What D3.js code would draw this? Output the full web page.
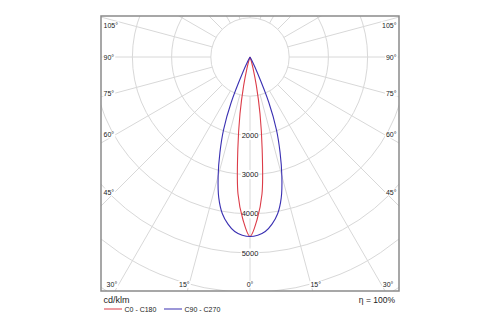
<!DOCTYPE html>
<html>
<head>
<meta charset="utf-8">
<script src="https://cdn.jsdelivr.net/npm/d3@7"></script>
<style>
  html, body { margin: 0; padding: 0; background: #fff; }
  svg { display: block; }
  text { font-family: "Liberation Sans", Arial, sans-serif; fill: #222; }
</style>
</head>
<body>
<svg id="chart" width="500" height="325"></svg>
<script>
// Gamma angles (degrees from nadir) and luminous intensity in cd/klm
const gammaAngles = [0, 2.5, 5, 7.5, 10, 12.5, 15, 17.5, 20, 22.5, 25, 27.5, 30, 35, 40, 50, 60, 70, 80, 90];
const intensityC0C180 = [4580, 4150, 3510, 2380, 1470, 750, 300, 110, 40, 10, 0, 0, 0, 0, 0, 0, 0, 0, 0, 0];
const intensityC90C270 = [4580, 4550, 4470, 4300, 4060, 3680, 3140, 2550, 1970, 1250, 450, 110, 20, 0, 0, 0, 0, 0, 0, 0];

// Grid definition
const ringValues = [1000, 2000, 3000, 4000, 5000, 6000, 7000];
const ringLabels = [2000, 3000, 4000, 5000];
const spokeAngles = d3.range(0, 360, 15);
const sideLabelAngles = [45, 60, 75, 90, 105];
const bottomLabelAngles = [-30, -15, 0, 15, 30];

const seriesNames = ["C0 - C180", "C90 - C270"];
const seriesColors = ["#dc3c48", "#3a30b2"];
const unitLabel = "cd/klm";
const efficiencyLabel = "η = 100%";

const svg = d3.select("#chart");
const frame = { x0: 101, y0: 16, x1: 399, y1: 291 };
const cx = 250, cy = 57;

const r = d3.scaleLinear().domain([0, 5000]).range([0, 196]);
const rad = d => d * Math.PI / 180;

// point on the diagram for gamma angle g (0 = straight down), radius rr
const pt = (g, rr) => [cx + rr * Math.sin(rad(g)), cy + rr * Math.cos(rad(g))];

svg.append("defs").append("clipPath").attr("id", "frameClip")
  .append("rect")
  .attr("x", frame.x0).attr("y", frame.y0)
  .attr("width", frame.x1 - frame.x0).attr("height", frame.y1 - frame.y0);

const grid = svg.append("g").attr("clip-path", "url(#frameClip)");

// concentric intensity rings
grid.selectAll("circle.ring").data(ringValues).join("circle")
  .attr("class", "ring")
  .attr("cx", cx).attr("cy", cy)
  .attr("r", d => r(d))
  .attr("fill", "none")
  .attr("stroke", "#d8d8d8")
  .attr("stroke-width", 1);

// radial spokes every 15°, starting at the innermost ring
const spokeLen = 600;
grid.selectAll("line.spoke").data(spokeAngles).join("line")
  .attr("class", "spoke")
  .attr("x1", d => pt(d, r(ringValues[0]))[0])
  .attr("y1", d => pt(d, r(ringValues[0]))[1])
  .attr("x2", d => pt(d, spokeLen)[0])
  .attr("y2", d => pt(d, spokeLen)[1])
  .attr("stroke", "#d8d8d8")
  .attr("stroke-width", 1);

// helper: text with a white backing box
function labelWithBg(parent, x, y, txt, anchor, size) {
  const g = parent.append("g");
  const t = g.append("text")
    .attr("x", x).attr("y", y)
    .attr("text-anchor", anchor)
    .attr("dominant-baseline", "central")
    .style("font-size", size + "px")
    .text(txt);
  const b = t.node().getBBox();
  g.insert("rect", "text")
    .attr("x", b.x - 1).attr("y", b.y)
    .attr("width", b.width + 2).attr("height", b.height)
    .attr("fill", "#fff");
  return g;
}

const labels = svg.append("g");

// ring value labels along the nadir axis
ringLabels.forEach(v => labelWithBg(labels, cx, cy + r(v), String(v), "middle", 7.5));

// side angle labels (left and right)
const inset = 14;
sideLabelAngles.forEach(a => {
  const dx = (cx - frame.x0) - inset;
  let y = cy + dx / Math.tan(rad(a));
  y = Math.max(y, frame.y0 + 9);
  labelWithBg(labels, frame.x0 + 2.5, y, a + "°", "start", 7);
  labelWithBg(labels, frame.x1 - 2.5, y, a + "°", "end", 7);
});

// bottom angle labels
bottomLabelAngles.forEach(a => {
  const dy = frame.y1 - cy;
  let x = cx + dy * Math.tan(rad(a));
  x += Math.sign(a) * 3;
  labelWithBg(labels, x, frame.y1 - 6.5, Math.abs(a) + "°", "middle", 7);
});

// photometric curves
const line = d3.lineRadial()
  .angle(d => Math.PI - rad(d[0]))
  .radius(d => r(d[1]))
  .curve(d3.curveCatmullRom.alpha(0.5));

function planePoints(values) {
  // keep samples up to and including the first zero value
  const half = [];
  for (let i = 0; i < gammaAngles.length; i++) {
    half.push([gammaAngles[i], values[i]]);
    if (values[i] === 0 && i > 0) break;
  }
  const left = half.slice(1).reverse().map(d => [-d[0], d[1]]);
  return left.concat(half);
}

const curves = svg.append("g").attr("transform", `translate(${cx},${cy})`);
[intensityC0C180, intensityC90C270].forEach((vals, i) => {
  curves.append("path")
    .attr("d", line(planePoints(vals)))
    .attr("fill", "none")
    .attr("stroke", seriesColors[i])
    .attr("stroke-width", 1.1);
});

// frame
svg.append("rect")
  .attr("x", frame.x0).attr("y", frame.y0)
  .attr("width", frame.x1 - frame.x0).attr("height", frame.y1 - frame.y0)
  .attr("fill", "none")
  .attr("stroke", "#8a8a8a")
  .attr("stroke-width", 1.5);

// footer: unit, efficiency and legend
svg.append("text")
  .attr("x", 103.5).attr("y", 300)
  .attr("dominant-baseline", "central")
  .style("font-size", "9px")
  .text(unitLabel);

svg.append("text")
  .attr("x", 395).attr("y", 300)
  .attr("text-anchor", "end")
  .attr("dominant-baseline", "central")
  .style("font-size", "8.5px")
  .text(efficiencyLabel);

const legendX = [104, 164];
seriesNames.forEach((name, i) => {
  const g = svg.append("g").attr("transform", `translate(${legendX[i]},309)`);
  g.append("line")
    .attr("x1", 0).attr("x2", 18).attr("y1", 0).attr("y2", 0)
    .attr("stroke", seriesColors[i])
    .attr("stroke-opacity", 0.5)
    .attr("stroke-width", 2);
  g.append("text")
    .attr("x", 20.5).attr("y", 0)
    .attr("dominant-baseline", "central")
    .style("font-size", "7px")
    .text(name);
});
</script>
</body>
</html>
